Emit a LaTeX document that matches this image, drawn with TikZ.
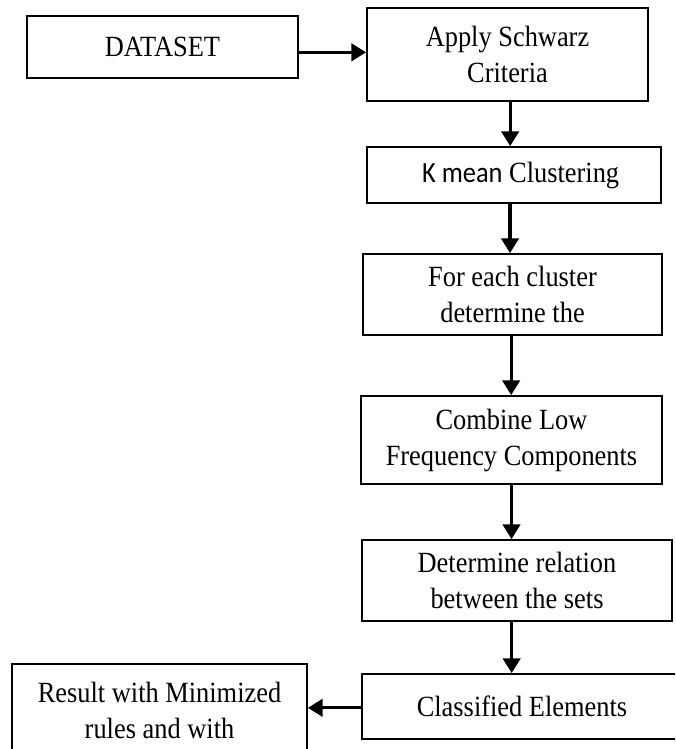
\documentclass[tikz,border=0pt]{standalone}
\usepackage{fontspec}
\setmainfont{Liberation Serif}[FakeStretch=0.9]
\newfontfamily\calibrifont{Carlito}[FakeStretch=0.9]
\usetikzlibrary{arrows.meta,positioning}
\tikzset{
  process/.style={draw=black,line width=1.4pt,fill=white,inner sep=0pt,
    align=center,font=\fontsize{22}{27}\selectfont},
  arrow/.style={-{Triangle[length=11pt,width=13pt]},line width=2.4pt,black}
}

\begin{document}
\begin{tikzpicture}[x=0.75pt,y=-0.75pt]
  \useasboundingbox (0,0) rectangle (675,749);
  \clip (0,0) rectangle (675,749);

  \node[process,minimum width=203.25pt,minimum height=46.5pt] (dataset)
    at (162.5,47) {DATASET};
  \node[process,minimum width=210.75pt,minimum height=69.75pt] (schwarz)
    at (507.5,54.5) {Apply Schwarz\\Criteria};
  \node[process,minimum width=220.5pt,minimum height=42pt] (kmean)
    at (514,175) {\hspace*{10pt}{\calibrifont K mean} Clustering};
  \node[process,minimum width=224.25pt,minimum height=60.75pt] (cluster)
    at (512.5,294.5) {For each cluster\\determine the};
  \node[process,minimum width=225.75pt,minimum height=66pt] (combine)
    at (511.5,440) {Combine Low\\Frequency Components};
  \node[process,minimum width=232.5pt,minimum height=60.75pt] (relation)
    at (517,580.5) {Determine relation\\between the sets};
  \node[process,minimum width=240pt,minimum height=48.75pt] (classified)
    at (522,706.5) {Classified Elements};
  \node[process,minimum width=221.25pt,minimum height=69pt] (result)
    at (159.5,710) {Result with Minimized\\rules and with};

  % flow of the steps
  \draw[arrow] ([yshift=-4pt]dataset.east) -- ([yshift=-4pt]dataset.east -| schwarz.west);
  \draw[arrow] ([xshift=2pt]schwarz.south) -- ([xshift=2pt]schwarz.south |- kmean.north);
  \draw[arrow] ([xshift=-3pt]kmean.south) -- ([xshift=-3pt]kmean.south |- cluster.north);
  \draw[arrow] ([xshift=-1pt]cluster.south) -- ([xshift=-1pt]cluster.south |- combine.north);
  \draw[arrow] (combine.south) -- (combine.south |- relation.north);
  \draw[arrow] ([xshift=-4pt]relation.south) -- ([xshift=-4pt]relation.south |- classified.north);
  \draw[arrow] ([yshift=-1pt]classified.west) -- ([yshift=-1pt]classified.west -| result.east);
\end{tikzpicture}
\end{document}
